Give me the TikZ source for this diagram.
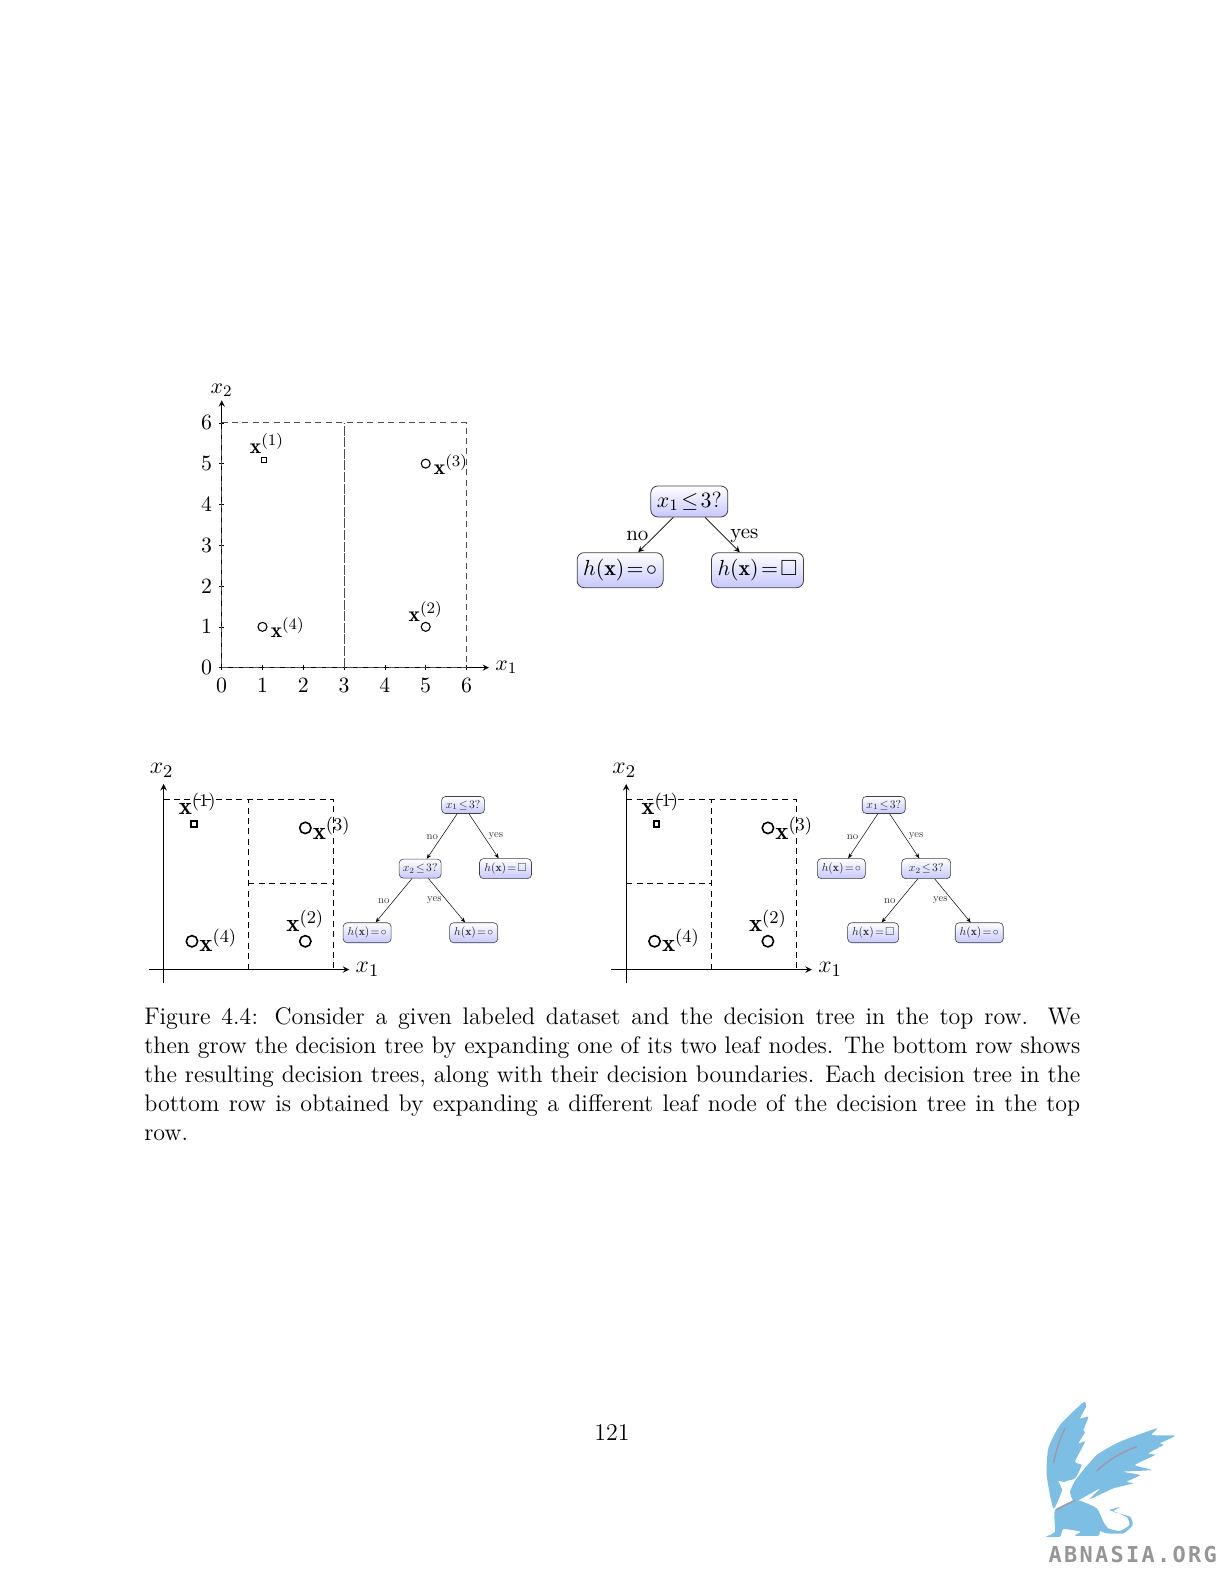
\documentclass[tikz,border=0pt]{standalone}
\usepackage{fontspec}
\usepackage{amssymb}
\usepackage{graphicx}
\usetikzlibrary{arrows.meta}
\newfontfamily\logofont[LetterSpace=10.5]{DejaVu Sans Mono}
\definecolor{griffin}{RGB}{125,190,228}
\definecolor{streak}{RGB}{165,150,165}
\definecolor{logogray}{RGB}{150,150,150}
\tikzset{
  >=stealth,
  treebox/.style={draw=black!75,rounded corners=3.5bp,top color=white,bottom color=blue!22,inner sep=0pt,line width=0.4pt},
  bigbox/.style={treebox,font=\fontsize{11}{13}\selectfont},
  smallbox/.style={treebox,rounded corners=2bp,text=black!85,line width=0.3pt},
  edgelabel/.style={inner sep=0pt,font=\fontsize{10.5}{12}\selectfont},
  smalllabel/.style={inner sep=0pt,text=black!80},
  bigarrow/.style={->,line width=0.35pt},
  smallarrow/.style={-{Stealth[length=2.5pt,width=2pt]},line width=0.25pt},
  bound/.style={dash pattern=on 3bp off 2.2bp,line width=0.45pt},
  ptlabel/.style={inner sep=0pt,font=\fontsize{10.8}{12}\selectfont},
  plotlabel/.style={inner sep=0pt,font=\fontsize{12.5}{14}\selectfont},
  ticklabel/.style={inner sep=0pt,font=\fontsize{11.3}{13}\selectfont},
}
\newcommand{\xpt}[1]{$\mathbf{x}^{(#1)}$}
\newcommand{\boxtext}[1]{\scalebox{0.58}{\fontsize{10}{12}\selectfont #1}}
\newcommand{\armtext}[1]{\scalebox{0.54}{\fontsize{10}{12}\selectfont #1}}
\begin{document}
\begin{tikzpicture}[x=0.505bp,y=-0.505bp]
    \useasboundingbox (0bp,0bp) rectangle (612bp,-792bp);
    % top plot
    \begin{scope}[shift={(219.5,661)},x=20.4bp,y=20.4bp]
        \foreach \t in {0,...,6} {
            \draw[line width=0.3pt] (\t,-0.06) -- (\t,0.06);
            \draw[line width=0.3pt] (-0.06,\t) -- (0.06,\t);
            \node[ticklabel] at (\t,-0.43) {$\t$};
            \node[ticklabel] at (-0.37,\t) {$\t$};
        }
        \draw[->,line width=0.4pt] (0,0) -- (6.55,0) node[right=3bp,ticklabel] {$x_1$};
        \draw[->,line width=0.4pt] (0,0) -- (0,6.55) node[above=1.5bp,ticklabel] {$x_2$};
        \draw[bound,black!70] (0,6) -- (6,6) -- (6,0) -- (0,0) -- cycle;
        \draw[bound,black!70,dash pattern=on 5bp off 0.8bp] (3,0) -- (3,6);
        \draw[line width=0.55pt] (0.97,5.02) rectangle (1.09,5.14);
        \draw[line width=0.55pt] (1,1) circle[radius=0.11];
        \draw[line width=0.55pt] (5,1) circle[radius=0.11];
        \draw[line width=0.55pt] (5,5) circle[radius=0.11];
        \node[ptlabel] (topa) at (1.11,5.5) {\xpt{1}};
        \node[ptlabel] (topb) at (5.0,1.38) {\xpt{2}};
        \node[ptlabel] (topc) at (5.62,4.98) {\xpt{3}};
        \node[ptlabel] (topd) at (1.62,0.98) {\xpt{4}};
    \end{scope}
    % top tree
    \node[bigbox,minimum width=38.5bp,minimum height=15.5bp] (toproot) at (682.5,496.5) {$x_1\!\leq\!3$?};
    \node[bigbox,minimum width=43bp,minimum height=17.5bp] (topno) at (614,564.5) {$h(\mathbf{x})\!=\!\circ$};
    \node[bigbox,minimum width=46bp,minimum height=17.5bp] (topyes) at (750,564.5) {$h(\mathbf{x})\!=\!\square$};
    \draw[bigarrow] (toproot) -- (topno);
    \draw[bigarrow] (toproot) -- (topyes);
    \node[edgelabel] (lblno) at (631,531) {no};
    \node[edgelabel] (lblyes) at (737,531) {yes};
    % bottom plots
    \foreach \ox/\name in {162/l,620/r} {
        \begin{scope}[shift={(\ox,960)},x=14.17bp,y=14.17bp]
            \draw[->,line width=0.45pt] (-0.52,0) -- (6.55,0) node[right=3bp,plotlabel] {$x_1$};
            \draw[->,line width=0.45pt] (0,-0.48) -- (0,6.55) node[above=3bp,xshift=-1bp,plotlabel] {$x_2$};
            \draw[bound] (0,6) -- (6,6) -- (6,0);
            \draw[bound] (0,0) -- (0,6);
            \draw[bound] (3,0) -- (3,6);
            \draw[line width=0.95pt] (0.97,5.03) rectangle (1.17,5.23);
            \draw[line width=0.8pt] (1,1) circle[radius=0.2];
            \draw[line width=0.8pt] (5,1) circle[radius=0.2];
            \draw[line width=0.8pt] (5,5) circle[radius=0.2];
            \node[plotlabel] (\name a) at (1.2,5.85) {\xpt{1}};
            \node[plotlabel] (\name b) at (5.0,1.72) {\xpt{2}};
            \node[plotlabel] (\name c) at (5.93,4.98) {\xpt{3}};
            \node[plotlabel] (\name d) at (1.93,1.03) {\xpt{4}};
        \end{scope}
    }
    \draw[bound] (246,875) -- (330,875);
    \draw[bound] (620,875) -- (704,875);
    % bottom left tree
    \node[smallbox,minimum width=21.5bp,minimum height=8.5bp] (lroot) at (458.5,797) {\boxtext{$x_1\!\leq\!3$?}};
    \node[smallbox,minimum width=21bp,minimum height=9.5bp] (lsub) at (416,860) {\boxtext{$x_2\!\leq\!3$?}};
    \node[smallbox,minimum width=26bp,minimum height=10bp] (lyes) at (500.5,860) {\boxtext{$h(\mathbf{x})\!=\!\square$}};
    \node[smallbox,minimum width=24bp,minimum height=10bp] (lleafa) at (363.5,923.5) {\boxtext{$h(\mathbf{x})\!=\!\circ$}};
    \node[smallbox,minimum width=24bp,minimum height=10bp] (lleafb) at (469,923.5) {\boxtext{$h(\mathbf{x})\!=\!\circ$}};
    \draw[smallarrow] (lroot) -- (lsub);
    \draw[smallarrow] (lroot) -- (lyes);
    \draw[smallarrow] (lsub) -- (lleafa);
    \draw[smallarrow] (lsub) -- (lleafb);
    \node[smalllabel] (lnoa) at (428,829) {\armtext{no}};
    \node[smalllabel] (lyesa) at (491,828) {\armtext{yes}};
    \node[smalllabel] (lnob) at (380,892) {\armtext{no}};
    \node[smalllabel] (lyesb) at (430,891) {\armtext{yes}};
    % bottom right tree
    \node[smallbox,minimum width=21.5bp,minimum height=8.5bp] (rroot) at (875,797) {\boxtext{$x_1\!\leq\!3$?}};
    \node[smallbox,minimum width=24.5bp,minimum height=10bp] (rsub) at (917,860) {\boxtext{$x_2\!\leq\!3$?}\hspace{1.5bp}};
    \node[smallbox,minimum width=24bp,minimum height=10bp] (rno) at (833,860) {\boxtext{$h(\mathbf{x})\!=\!\circ$}};
    \node[smallbox,minimum width=25.5bp,minimum height=10bp] (rleafa) at (864.5,923.5) {\boxtext{$h(\mathbf{x})\!=\!\square$}};
    \node[smallbox,minimum width=24bp,minimum height=10bp] (rleafb) at (969.5,923.5) {\boxtext{$h(\mathbf{x})\!=\!\circ$}};
    \draw[smallarrow] (rroot) -- (rno);
    \draw[smallarrow] (rroot) -- (rsub);
    \draw[smallarrow] (rsub) -- (rleafa);
    \draw[smallarrow] (rsub) -- (rleafb);
    \node[smalllabel] (rnoa) at (844,829) {\armtext{no}};
    \node[smalllabel] (ryesa) at (907,828) {\armtext{yes}};
    \node[smalllabel] (rnob) at (881,892) {\armtext{no}};
    \node[smalllabel] (ryesb) at (931,891) {\armtext{yes}};
    % caption
    \node[anchor=north west,inner sep=0pt,text width=468bp,align=justify,font=\fontsize{12.05}{14.6}\selectfont] (caption) at (142.5,997) {Figure 4.4: Consider a given labeled dataset and the decision tree in the top row. We\linebreak then grow the decision tree by expanding one of its two leaf nodes. The bottom row shows the resulting decision trees, along with their decision boundaries. Each decision tree in the bottom row is obtained by expanding a different leaf node of the decision tree in the top row.};
    \node[inner sep=0pt,font=\fontsize{12.05}{14}\selectfont] (pagenum) at (606,1418) {121};
    % logo
    \begin{scope}[shift={(510bp,-687.5bp)},x=0.1667bp,y=-0.1667bp]
        \fill[griffin] plot[smooth cycle,tension=0.35] coordinates {(100,400) (80,300) (85,220) (120,150) (190,82) (198,95) (180,130) (205,125) (190,165) (195,172) (175,205) (195,200) (165,260) (185,270) (165,310) (135,320) (125,350)};
        \fill[griffin] plot[smooth cycle,tension=0.3] coordinates {(170,310) (230,240) (300,200) (410,160) (395,180) (465,182) (420,205) (430,210) (385,235) (405,240) (345,270) (395,285) (310,290) (360,300) (320,320) (340,325) (280,340) (210,372) (240,340) (165,380) (150,350)};
        \fill[griffin] plot[smooth cycle,tension=0.3] coordinates {(105,405) (170,375) (230,400) (250,440) (265,460) (300,468) (328,450) (322,428) (290,412) (268,405) (300,396) (280,410) (330,425) (338,450) (310,475) (260,475) (240,468) (235,482) (165,482) (182,470) (130,462) (120,485) (78,485) (105,470)};
        \fill[white] (115,318) -- (160,325) -- (136,345) -- (130,372) -- (110,395) -- (128,345) -- cycle;
        \draw[streak,line width=0.7pt] (100,265) .. controls (110,220) and (120,190) .. (135,160);
        \draw[streak,line width=0.7pt] (230,288) .. controls (270,250) and (310,230) .. (350,215);
        \draw[streak,line width=0.7pt] (108,405) -- (165,375);
        \node[inner sep=0pt,text=logogray,font=\logofont\bfseries\fontsize{11}{13}\selectfont] (logotext) at (338,538) {ABNASIA.ORG};
    \end{scope}
\end{tikzpicture}
\end{document}
